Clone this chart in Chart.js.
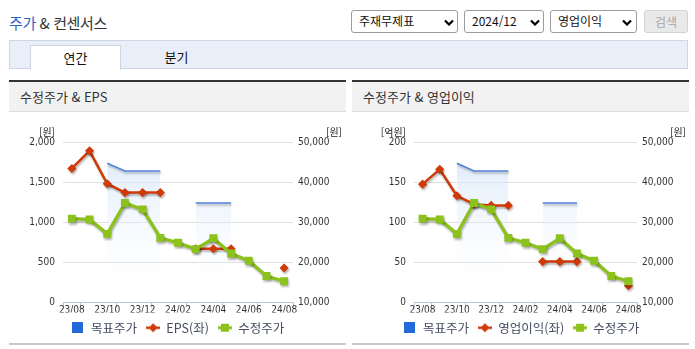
<!DOCTYPE html>
<html lang="ko">
<head>
<meta charset="utf-8">
<script src="https://cdn.jsdelivr.net/npm/chart.js@4.4.1/dist/chart.umd.min.js"></script>
<style>
  body { margin: 0; width: 695px; height: 349px; background: #fff; position: relative; overflow: hidden;
         font-family: 'Noto Sans CJK KR', 'Noto Sans', sans-serif; color: #333; }
  .ttl { position: absolute; left: 9px; top: 12px; font-size: 15px; letter-spacing: -0.4px; color: #333; }
  .ttl span { color: #2f63c8; }
  .sel { position: absolute; top: 10px; height: 23px; box-sizing: border-box; border: 1px solid #9c9c9c;
         border-radius: 3px; background: #fff; font-size: 12px; line-height: 20px; padding-left: 7px; color: #111; }
  .sel svg { position: absolute; top: 8px; }
  .btn { position: absolute; top: 10px; left: 644px; width: 44px; height: 23px; box-sizing: border-box;
         border: 1px solid #d2d2d2; border-radius: 3px; background: #e9e9e9; color: #a8a8a8;
         font-size: 12px; line-height: 21px; text-align: center; }
  .tabs { position: absolute; left: 9px; top: 40px; width: 679px; height: 29px; box-sizing: border-box;
          background: #e9eef8; border: 1px solid #cdd6e4; }
  .tab { position: absolute; top: 4px; height: 25px; width: 91px; text-align: center; font-size: 13px; line-height: 23px; color: #111; }
  .tab.on { left: 20px; background: #fff; border: 1px solid #cdd6e4; border-bottom: none; box-sizing: border-box; }
  .tab.off { left: 121px; }
  .panel { position: absolute; top: 80px; height: 32px; box-sizing: border-box; border-top: 2px solid #333;
           background: #f2f2f2; border-bottom: 1px solid #dcdcdc; font-size: 13px; line-height: 29px; padding-left: 11px; color: #333; }
  .foot { position: absolute; top: 343px; height: 2px; background: #c8c8c8; z-index: 2; }
  canvas { position: absolute; top: 113px; }
</style>
</head>
<body>
<div class="ttl"><span>주가</span> &amp; 컨센서스</div>

<div class="sel" style="left:351px;width:107px;">주재무제표<svg style="left:92px" width="10" height="7"><polyline points="1,1.5 5,5.5 9,1.5" fill="none" stroke="#000" stroke-width="2.2"/></svg></div>
<div class="sel" style="left:464px;width:80px;">2024/12<svg style="left:65px" width="10" height="7"><polyline points="1,1.5 5,5.5 9,1.5" fill="none" stroke="#000" stroke-width="2.2"/></svg></div>
<div class="sel" style="left:550px;width:87px;">영업이익<svg style="left:71px" width="10" height="7"><polyline points="1,1.5 5,5.5 9,1.5" fill="none" stroke="#000" stroke-width="2.2"/></svg></div>
<div class="btn">검색</div>

<div class="tabs">
  <div class="tab on">연간</div>
  <div class="tab off">분기</div>
</div>

<div class="panel" style="left:9px;width:337px;">수정주가 &amp; EPS</div>
<div class="panel" style="left:352px;width:337px;">수정주가 &amp; 영업이익</div>

<canvas id="chartEps" width="337" height="232" style="left:9px;"></canvas>
<canvas id="chartOp" width="338" height="232" style="left:352px;"></canvas>

<div class="foot" style="left:9px;width:337px;"></div>
<div class="foot" style="left:352px;width:337px;"></div>

<script>
// monthly points, 23/08 .. 24/08
const months = ['23/08', '23/09', '23/10', '23/11', '23/12', '24/01', '24/02',
                '24/03', '24/04', '24/05', '24/06', '24/07', '24/08'];

// 목표주가 (원)
const targetPrice = [null, null, 44700, 42800, 42800, 42800, null, 34800, 34800, 34800, null, null, null];
// 수정주가 (원)
const adjPrice = [30900, 30700, 27100, 34800, 33200, 26100, 24900, 23300, 26000, 22200, 20400, 16600, 15300];
// EPS (원)
const eps = [1670, 1890, 1480, 1370, 1370, 1370, null, 670, 670, 670, null, null, 430];
// 영업이익 (억원)
const opProfit = [147.5, 166, 133, 122.5, 121, 121, null, 51, 51, 51, null, null, 21];

const epsTicks = { min: 0, max: 2000, step: 500 };
const opTicks = { min: 0, max: 200, step: 50 };
const priceTicks = { min: 10000, max: 50000, step: 10000 };

const BLUE_LINE = '#4d82d6';
const BLUE_BOX = '#2468d9';
const RED = '#cf3a08';
const GREEN = '#8cc21c';
const AXIS = '#b7c6dc';
const tickFont = { family: "'Liberation Sans Narrow', 'DejaVu Sans Condensed', sans-serif", size: 10 };

// little legend glyphs: square, line + diamond, line + square
function icon(kind, color) {
  const c = document.createElement('canvas');
  const g = c.getContext('2d');
  if (kind === 'box') {
    c.width = 11; c.height = 11;
    g.fillStyle = color; g.fillRect(0, 0, 11, 11);
    return c;
  }
  c.width = 14; c.height = 10;
  g.strokeStyle = color; g.lineWidth = kind === 'diamond' ? 2.5 : 3;
  g.beginPath(); g.moveTo(0, 5); g.lineTo(14, 5); g.stroke();
  g.fillStyle = color;
  if (kind === 'diamond') {
    g.beginPath(); g.moveTo(7, 0.5); g.lineTo(11.5, 5); g.lineTo(7, 9.5); g.lineTo(2.5, 5); g.closePath(); g.fill();
  } else {
    g.fillRect(3, 1, 8, 8);
  }
  return c;
}
const legendIcons = [icon('box', BLUE_BOX), icon('diamond', RED), icon('square', GREEN)];

const lineShadow = {
  id: 'lineShadow',
  beforeDatasetDraw(chart) {
    const ctx = chart.ctx;
    ctx.save();
    ctx.shadowColor = 'rgba(0,0,0,0.28)';
    ctx.shadowBlur = 2;
    ctx.shadowOffsetX = 1;
    ctx.shadowOffsetY = 2;
  },
  afterDatasetDraw(chart) { chart.ctx.restore(); }
};

// [원] / [억원] captions above the two value axes
const unitLabels = {
  id: 'unitLabels',
  afterDraw(chart, args, opts) {
    const { ctx, chartArea } = chart;
    ctx.save();
    ctx.font = "10px 'Noto Sans CJK KR', sans-serif";
    ctx.fillStyle = '#222';
    ctx.textBaseline = 'middle';
    ctx.textAlign = 'right';
    ctx.fillText(opts.left, chartArea.left - 8, chartArea.top - 10);
    ctx.fillText(opts.right, chart.width - 4, chartArea.top - 10);
    ctx.restore();
  }
};

function areaFill(c) {
  const area = c.chart.chartArea;
  if (!area) return 'rgba(0,0,0,0)';
  const g = c.chart.ctx.createLinearGradient(0, area.top, 0, area.bottom);
  g.addColorStop(0, 'rgba(208,226,248,0.85)');
  g.addColorStop(1, 'rgba(255,255,255,0)');
  return g;
}

function buildChart(id, leftLabel, leftValues, leftTicks, leftUnit, leftWidth) {
  return new Chart(document.getElementById(id), {
    type: 'line',
    data: {
      labels: months,
      datasets: [
        {
          label: '목표주가', data: targetPrice, yAxisID: 'yPrice', order: 3,
          borderColor: BLUE_LINE, borderWidth: 1.5, pointRadius: 0,
          fill: 'start', backgroundColor: areaFill
        },
        {
          label: leftLabel, data: leftValues, yAxisID: 'yLeft', order: 2,
          borderColor: RED, backgroundColor: RED, borderWidth: 2.5,
          pointStyle: 'rectRot', pointRadius: 4.6, pointBorderWidth: 0
        },
        {
          label: '수정주가', data: adjPrice, yAxisID: 'yPrice', order: 1,
          borderColor: GREEN, backgroundColor: GREEN, borderWidth: 3.3,
          pointStyle: 'rect', pointRadius: 5.6, pointBorderWidth: 0
        }
      ]
    },
    options: {
      responsive: false,
      animation: false,
      devicePixelRatio: 1,
      layout: { padding: { top: 29, bottom: 1, left: 0, right: 0 } },
      elements: { line: { tension: 0 } },
      scales: {
        x: {
          offset: true,
          grid: {
            offset: true, drawOnChartArea: false, tickLength: 5,
            color: c => (c.index === undefined || c.index === 0 || c.index % 2 === 1) ? AXIS : 'rgba(0,0,0,0)'
          },
          border: { color: AXIS },
          ticks: {
            autoSkip: false, maxRotation: 0, padding: -3, color: '#333', font: tickFont,
            callback: (v, i) => i % 2 === 0 ? months[i] : ''
          },
          afterFit: s => { s.height = 10; }
        },
        yLeft: {
          position: 'left', min: leftTicks.min, max: leftTicks.max,
          ticks: { stepSize: leftTicks.step, padding: 8, color: '#333', font: tickFont },
          grid: { drawTicks: false, color: c => c.tick.value === leftTicks.min ? 'rgba(0,0,0,0)' : '#dedede' },
          border: { display: false },
          afterFit: s => { s.width = leftWidth; }
        },
        yPrice: {
          position: 'right', min: priceTicks.min, max: priceTicks.max,
          ticks: { stepSize: priceTicks.step, padding: 5, color: '#333', font: tickFont },
          grid: { display: false, drawTicks: false },
          border: { display: false },
          afterFit: s => { s.width = 53; }
        }
      },
      plugins: {
        tooltip: { enabled: false },
        unitLabels: { left: leftUnit, right: '[원]' },
        legend: {
          position: 'bottom',
          labels: {
            usePointStyle: true, pointStyleWidth: 14, padding: 9,
            color: '#454c60', font: { family: "'Noto Sans CJK KR', sans-serif", size: 12.5 },
            sort: (a, b) => a.datasetIndex - b.datasetIndex,
            generateLabels(chart) {
              const items = Chart.defaults.plugins.legend.labels.generateLabels(chart);
              items.forEach(it => { it.pointStyle = legendIcons[it.datasetIndex]; });
              return items;
            }
          }
        }
      }
    },
    plugins: [lineShadow, unitLabels]
  });
}

Chart.defaults.locale = 'en-US';
buildChart('chartEps', 'EPS(좌)', eps, epsTicks, '[원]', 54);
buildChart('chartOp', '영업이익(좌)', opProfit, opTicks, '[억원]', 62);
</script>
</body>
</html>
